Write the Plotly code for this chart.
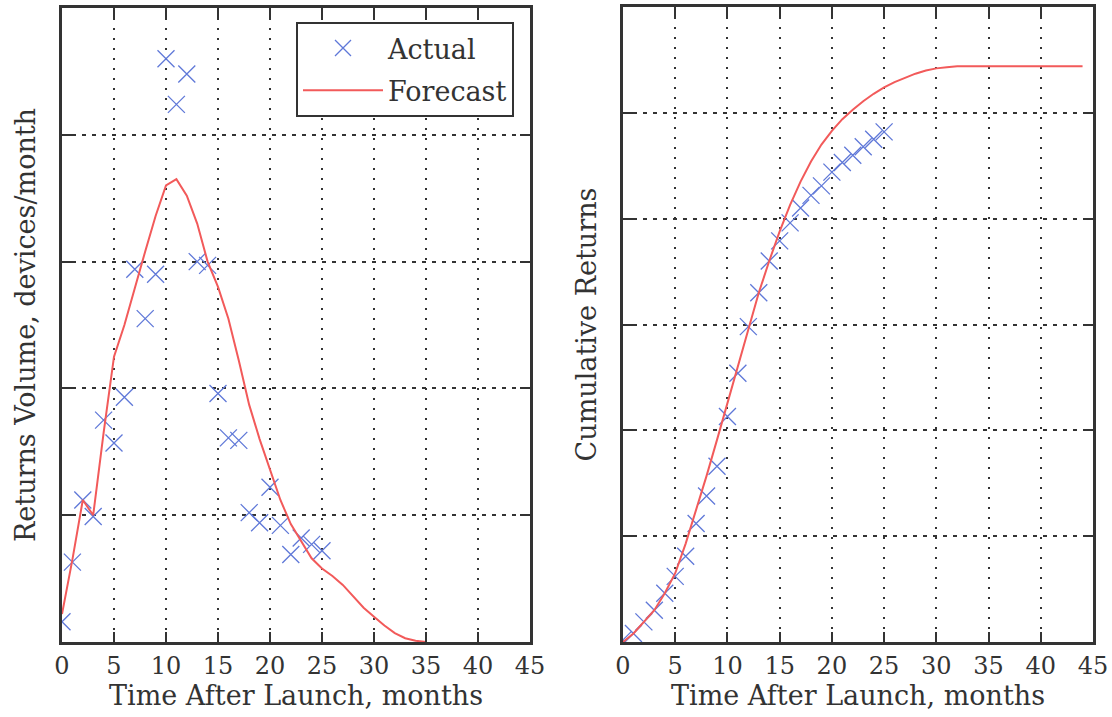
import plotly.graph_objects as go

# ---- data ----
months_actual = list(range(0, 26))
returns_actual = [0.16, 0.63, 1.12, 0.99, 1.75, 1.57, 1.93, 2.94, 2.55, 2.90,
                  4.60, 4.24, 4.48, 3.00, 2.97, 1.96, 1.61, 1.59, 1.02, 0.94,
                  1.22, 0.92, 0.69, 0.82, 0.77, 0.72]

months_forecast = list(range(0, 36))
returns_forecast = [0.22, 0.65, 1.12, 1.00, 1.65, 2.25, 2.50, 2.80, 3.08, 3.36,
                    3.60, 3.65, 3.52, 3.30, 3.00, 2.80, 2.55, 2.22, 1.87, 1.60,
                    1.36, 1.12, 0.93, 0.79, 0.66, 0.58, 0.52, 0.45, 0.36, 0.27,
                    0.20, 0.13, 0.07, 0.03, 0.01, 0.00]

cum_actual = [0.02, 0.08, 0.19, 0.30, 0.46, 0.62, 0.81, 1.12, 1.38, 1.66,
              2.13, 2.54, 2.98, 3.30, 3.60, 3.79, 3.96, 4.10, 4.22, 4.31,
              4.44, 4.53, 4.60, 4.68, 4.75, 4.82]

months_cum_forecast = list(range(0, 45))
cum_forecast = [0.00, 0.08, 0.19, 0.30, 0.46, 0.65, 0.93, 1.24, 1.57, 1.91,
                2.26, 2.62, 2.96, 3.30, 3.60, 3.88, 4.13, 4.35, 4.54, 4.70,
                4.83, 4.94, 5.03, 5.11, 5.18, 5.24, 5.29, 5.33, 5.37, 5.40,
                5.42, 5.43, 5.44, 5.44, 5.44, 5.44, 5.44, 5.44, 5.44, 5.44,
                5.44, 5.44, 5.44, 5.44, 5.44]

x_ticks = [0, 5, 10, 15, 20, 25, 30, 35, 40, 45]

BLUE = "#5f78d8"
RED = "#f25a5a"
INK = "#333333"
FONT = "DejaVu Serif, Liberation Serif, serif"
W, H = 1112, 717

fig = go.Figure()

marker_style = dict(symbol="x-thin", size=17, line=dict(width=1.3, color=BLUE), color=BLUE)

fig.add_trace(go.Scatter(x=months_actual, y=returns_actual, mode="markers",
                         marker=marker_style, name="Actual", legendgroup="a",
                         xaxis="x", yaxis="y"))
fig.add_trace(go.Scatter(x=months_forecast, y=returns_forecast, mode="lines",
                         line=dict(color=RED, width=2), name="Forecast", legendgroup="f",
                         xaxis="x", yaxis="y"))
fig.add_trace(go.Scatter(x=months_actual, y=cum_actual, mode="markers",
                         marker=marker_style, showlegend=False,
                         xaxis="x2", yaxis="y2"))
fig.add_trace(go.Scatter(x=months_cum_forecast, y=cum_forecast, mode="lines",
                         line=dict(color=RED, width=2), showlegend=False,
                         xaxis="x2", yaxis="y2"))

def xaxis(domain, anchor):
    return dict(domain=domain, anchor=anchor, range=[0, 45], tickvals=x_ticks,
                ticks="inside", ticklen=10, tickwidth=2, tickcolor=INK,
                mirror="ticks", showline=True, linewidth=3, linecolor=INK,
                showgrid=True, gridcolor=INK, gridwidth=1.5, griddash="2px,8px",
                zeroline=False, tickfont=dict(family=FONT, size=24, color=INK),
                title=dict(text="Time After Launch, months", standoff=6,
                           font=dict(family=FONT, size=27, color=INK)),
                automargin=False)

def yaxis(domain, anchor, ymax, title, standoff):
    return dict(domain=domain, anchor=anchor, range=[0, ymax], dtick=1,
                showticklabels=False, ticks="inside", ticklen=10, tickwidth=2,
                tickcolor=INK, mirror="ticks", showline=True, linewidth=3,
                linecolor=INK, showgrid=True, gridcolor=INK, gridwidth=1.5,
                griddash="4px,6px", zeroline=False,
                title=dict(text=title, standoff=standoff,
                           font=dict(family=FONT, size=27, color=INK)),
                automargin=False)

fig.update_layout(
    width=W, height=H,
    margin=dict(l=0, r=0, t=0, b=0),
    paper_bgcolor="white", plot_bgcolor="white",
    font=dict(family=FONT, color=INK),
    xaxis=xaxis([62 / W, 530 / W], "y"),
    yaxis=yaxis([1 - 642 / H, 1 - 8 / H], "x", 5, "Returns Volume, devices/month", 16),
    xaxis2=xaxis([623 / W, 1093 / W], "y2"),
    yaxis2=yaxis([1 - 642 / H, 1 - 7 / H], "x2", 6, "Cumulative Returns", 16),
    showlegend=True,
    legend=dict(x=296 / W, y=1 - 22 / H, xanchor="left", yanchor="top",
                bgcolor="white", bordercolor=INK, borderwidth=2,
                font=dict(family=FONT, size=27, color=INK),
                itemwidth=80, tracegroupgap=4),
)

fig.write_html("out.html")
